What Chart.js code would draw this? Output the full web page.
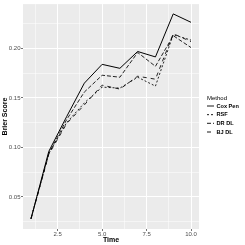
<!DOCTYPE html>
<html>
<head>
<meta charset="utf-8">
<script src="https://cdn.jsdelivr.net/npm/chart.js@4/dist/chart.umd.min.js"></script>
<style>
html,body{margin:0;padding:0;background:#fff;}
#wrap{width:245px;height:245px;position:relative;}
</style>
</head>
<body>
<div id="wrap"><canvas id="c" width="245" height="245"></canvas></div>
<script>
const times = [1, 2, 3, 4, 5, 6, 7, 8, 9, 10];
const coxPen = [0.028, 0.096, 0.131, 0.165, 0.184, 0.180, 0.197, 0.1915, 0.235, 0.2265];
const rsf    = [0.028, 0.094, 0.125, 0.145, 0.161, 0.160, 0.171, 0.162, 0.214, 0.2085];
const drDL   = [0.028, 0.094, 0.128, 0.156, 0.173, 0.171, 0.196, 0.182, 0.213, 0.201];
const bjDL   = [0.028, 0.093, 0.124, 0.143, 0.163, 0.159, 0.172, 0.169, 0.215, 0.207];
const methods = ['Cox Pen', 'RSF', 'DR DL', 'BJ DL'];
const yTickLabels = [0.05, 0.10, 0.15, 0.20];
const xTickLabels = [2.5, 5.0, 7.5, 10.0];

const seriesList = [coxPen, rsf, drDL, bjDL];
const dashes = [[], [2, 2], [4, 2], [4, 4]];

function withMinor(major, step, lo, hi) {
  const out = [];
  const first = major[0] - step;
  for (let k = 0; k <= major.length * 2 + 2; k++) {
    const v = +(first + k * step).toFixed(6);
    if (v > lo && v < hi) out.push(v);
  }
  return out;
}
function isMajor(v, major) { return major.some(m => Math.abs(m - v) < 1e-9); }

const xMin = 0.55, xMax = 10.45;
const yMin = 0.0176, yMax = 0.2449;

const panelBg = {
  id: 'panelBg',
  beforeDraw(chart) {
    const a = chart.chartArea, ctx = chart.ctx;
    ctx.save();
    ctx.fillStyle = '#EBEBEB';
    ctx.fillRect(a.left, a.top, a.right - a.left, a.bottom - a.top);
    ctx.restore();
  }
};

const legendPlugin = {
  id: 'ggLegend',
  afterDraw(chart) {
    const ctx = chart.ctx;
    ctx.save();
    ctx.fillStyle = '#000';
    ctx.textBaseline = 'middle';
    ctx.textAlign = 'left';
    ctx.font = '6px "Liberation Sans", Arial, sans-serif';
    ctx.fillText('Method', 207, 98.5);
    const ys = [106, 114.7, 123.3, 132];
    ctx.font = 'bold 5.6px "Liberation Sans", Arial, sans-serif';
    methods.forEach((m, i) => {
      ctx.strokeStyle = '#000';
      ctx.lineWidth = 0.9;
      ctx.setLineDash(dashes[i]);
      ctx.beginPath();
      ctx.moveTo(207, ys[i]);
      ctx.lineTo(214, ys[i]);
      ctx.stroke();
      ctx.setLineDash([]);
      ctx.fillText(m, 216.5, ys[i]);
    });
    ctx.restore();
  }
};

const yAll = withMinor(yTickLabels, 0.025, yMin, yMax);
const xAll = withMinor(xTickLabels, 1.25, xMin, xMax);

new Chart(document.getElementById('c'), {
  type: 'line',
  data: {
    datasets: seriesList.map((s, i) => ({
      label: methods[i],
      data: times.map((t, j) => ({ x: t, y: s[j] })),
      borderColor: '#000',
      borderWidth: i === 0 ? 1 : 0.85,
      borderDash: dashes[i],
      pointRadius: 0,
      tension: 0,
      fill: false
    }))
  },
  plugins: [panelBg, legendPlugin],
  options: {
    responsive: false,
    animation: false,
    devicePixelRatio: 1,
    layout: { padding: { top: 3, right: 46, left: 0, bottom: 0 } },
    plugins: { legend: { display: false }, tooltip: { enabled: false } },
    scales: {
      x: {
        type: 'linear',
        min: xMin, max: xMax,
        afterBuildTicks(scale) { scale.ticks = xAll.map(v => ({ value: v })); },
        afterFit(scale) { scale.height = 16; },
        border: { display: false },
        grid: {
          color: '#FFFFFF',
          lineWidth: c => (c.tick && isMajor(c.tick.value, xTickLabels)) ? 1 : 0.5,
          tickColor: c => (c.tick && isMajor(c.tick.value, xTickLabels)) ? '#333333' : 'rgba(0,0,0,0)',
          tickLength: 2,
          tickWidth: 0.7
        },
        ticks: {
          autoSkip: false,
          maxRotation: 0,
          padding: 0,
          color: '#4D4D4D',
          font: { family: '"Liberation Sans", Arial, sans-serif', size: 6 },
          callback: v => isMajor(v, xTickLabels) ? v.toFixed(1) : ''
        },
        title: {
          display: true,
          text: 'Time',
          color: '#000',
          padding: { top: 0, bottom: 1 },
          font: { family: '"Liberation Sans", Arial, sans-serif', size: 7, weight: 'bold' }
        }
      },
      y: {
        type: 'linear',
        min: yMin, max: yMax,
        afterBuildTicks(scale) { scale.ticks = yAll.map(v => ({ value: v })); },
        afterFit(scale) { scale.width = 23; },
        border: { display: false },
        grid: {
          color: '#FFFFFF',
          lineWidth: c => (c.tick && isMajor(c.tick.value, yTickLabels)) ? 1 : 0.5,
          tickColor: c => (c.tick && isMajor(c.tick.value, yTickLabels)) ? '#333333' : 'rgba(0,0,0,0)',
          tickLength: 2,
          tickWidth: 0.7
        },
        ticks: {
          autoSkip: false,
          padding: 0.5,
          color: '#4D4D4D',
          font: { family: '"Liberation Sans", Arial, sans-serif', size: 6 },
          callback: v => isMajor(v, yTickLabels) ? v.toFixed(2) : ''
        },
        title: {
          display: true,
          text: 'Brier Score',
          color: '#000',
          padding: { top: 1, bottom: 0 },
          font: { family: '"Liberation Sans", Arial, sans-serif', size: 7, weight: 'bold' }
        }
      }
    }
  }
});
</script>
</body>
</html>
